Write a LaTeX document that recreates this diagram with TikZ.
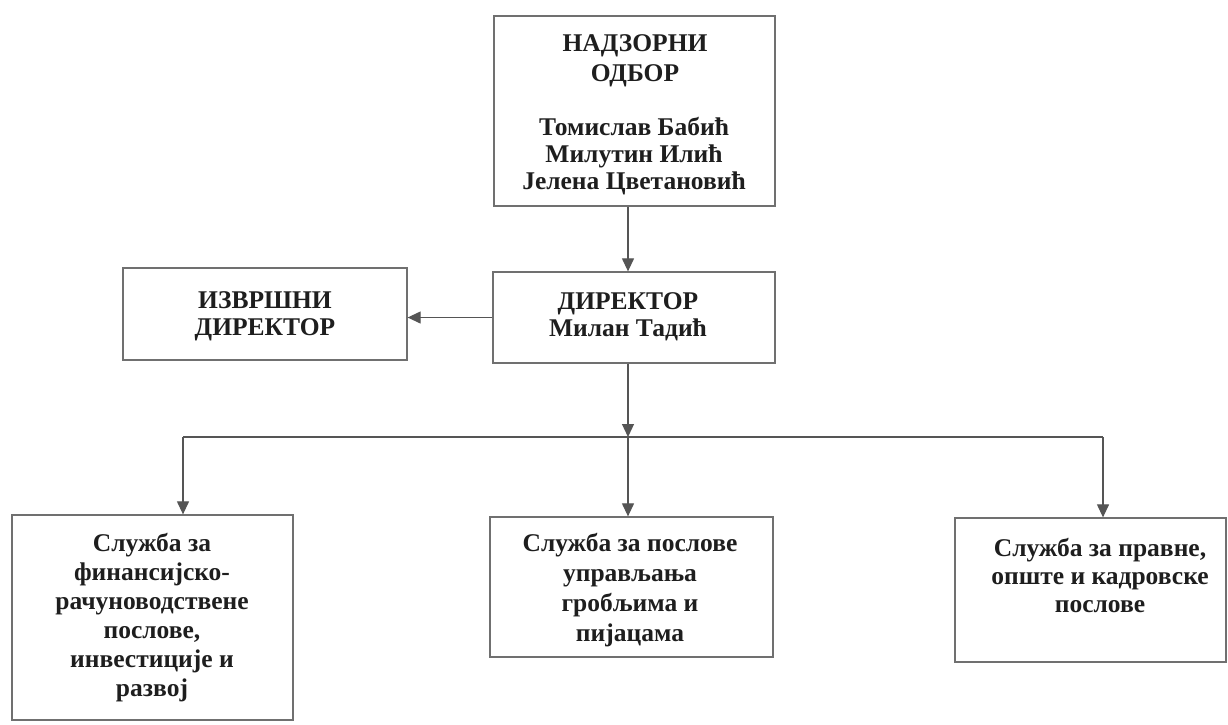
\documentclass[tikz,border=0pt]{standalone}
\usepackage{fontspec}
\setmainfont{Liberation Serif}
\usetikzlibrary{arrows.meta}
\definecolor{boxline}{HTML}{707070}
\definecolor{conn}{HTML}{555555}
\definecolor{txtc}{HTML}{1E1E1E}
\begin{document}
\begin{tikzpicture}[x=1pt,y=-1pt,
  box/.style={draw=boxline, line width=1.3pt, inner sep=0pt},
  txt/.style={text=txtc, align=center, inner sep=0pt},
  arr/.style={draw=conn, line width=1.2pt, -{Triangle[width=12pt,length=13pt]}},
  ln/.style={draw=conn, line width=1.2pt}]
\useasboundingbox[fill=white] (0,0) rectangle (1228,724);

% boxes
\node[box, minimum width=281pt, minimum height=190pt] (nb) at (634.5,111) {};
\node[box, minimum width=282pt, minimum height=91pt] (dir) at (634,317.5) {};
\node[box, minimum width=284pt, minimum height=92pt] (izv) at (265,314) {};
\node[box, minimum width=281pt, minimum height=205pt] (sl) at (152.5,617.5) {};
\node[box, minimum width=283pt, minimum height=140pt] (sm) at (631.5,587) {};
\node[box, minimum width=271pt, minimum height=144pt] (sr) at (1090.5,590) {};

% texts
\node[txt, font=\fontsize{25.5}{30}\selectfont\bfseries] (nbt) at (635,61) {НАДЗОРНИ\\ОДБОР};
\node[txt, font=\fontsize{25.5}{27}\selectfont\bfseries] (nbn) at (634,156) {Томислав Бабић\\Милутин Илић\\Јелена Цветановић};
\node[txt, font=\fontsize{25.5}{27}\selectfont\bfseries] (dirt) at (628,317) {ДИРЕКТОР\\Милан Тадић};
\node[txt, font=\fontsize{25.5}{27}\selectfont\bfseries] (izvt) at (265,316) {ИЗВРШНИ\\ДИРЕКТОР};
\node[txt, font=\fontsize{25.5}{29}\selectfont\bfseries] (slt) at (152,618) {Служба за\\финансијско-\\рачуноводствене\\послове,\\инвестиције и\\развој};
\node[txt, font=\fontsize{25.5}{30}\selectfont\bfseries] (smt) at (630,590) {Служба за послове\\управљања\\гробљима и\\пијацама};
\node[txt, font=\fontsize{25.5}{28}\selectfont\bfseries] (srt) at (1100,575) {Служба за правне,\\опште и кадровске\\послове};

% connectors
\coordinate (j) at (628,437);
\coordinate (jl) at (183,437);
\coordinate (jr) at (1103,437);
\draw[arr] (nb.south -| j) -- (dir.north -| j);
\draw[arr] (dir.west) -- (dir.west -| izv.east);
\draw[arr] (dir.south -| j) -- (j);
\draw[ln] (jl) -- (jr);
\draw[arr] (jl) -- (sl.north -| jl);
\draw[arr] (j) -- (sm.north -| j);
\draw[arr] (jr) -- (sr.north -| jr);
\end{tikzpicture}
\end{document}
